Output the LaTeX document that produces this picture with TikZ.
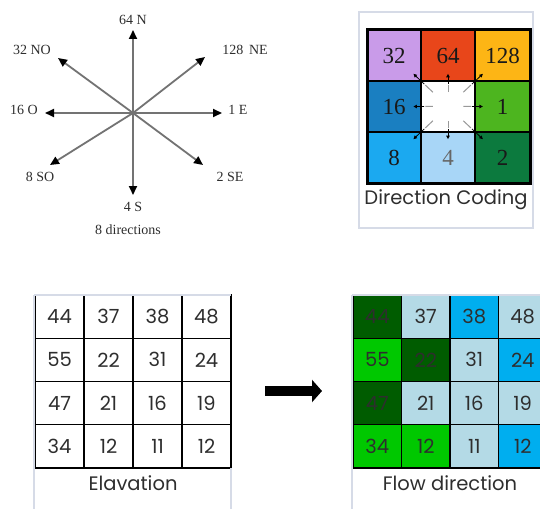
\documentclass[tikz,border=0pt]{standalone}
\usepackage{fontspec}
\setmainfont{Liberation Serif}
\newfontfamily\geo{Poppins}
\usetikzlibrary{arrows.meta,calc}
\definecolor{frameC}{HTML}{D6DBE7}
\definecolor{txtC}{HTML}{2E2E2E}
\definecolor{cA}{HTML}{C99BE9}
\definecolor{cB}{HTML}{E8461A}
\definecolor{cC}{HTML}{FDB515}
\definecolor{cD}{HTML}{1A7FC1}
\definecolor{cE}{HTML}{4DB51F}
\definecolor{cF}{HTML}{1BA9F0}
\definecolor{cG}{HTML}{A8D6F7}
\definecolor{cH}{HTML}{0C7A3E}
\definecolor{fDk}{HTML}{005C00}
\definecolor{fLb}{HTML}{B4DAE6}
\definecolor{fBl}{HTML}{00AEEF}
\definecolor{fGr}{HTML}{00C800}
\begin{document}
\begin{tikzpicture}[x=1pt,y=-1pt,
  comparrow/.style={draw=gray!90!black,line width=1.8pt,-{Triangle[length=9pt,width=8pt,fill=black,color=black]}},
  lab/.style={font=\fontsize{14}{14}\selectfont,text=txtC,inner sep=0pt},
  dcell/.style={draw=black,line width=1.6pt,minimum width=54pt,minimum height=51pt,inner sep=0pt,
    font=\fontsize{23}{23}\selectfont,text=black!90},
  gcell/.style={draw=black,line width=1.3pt,minimum width=49pt,minimum height=43.25pt,inner sep=0pt,
    font=\geo\fontsize{19.5}{19.5}\selectfont,text=txtC},
  fcell/.style={draw=black,line width=1.3pt,minimum width=48.5pt,minimum height=43.25pt,inner sep=0pt,
    font=\geo\fontsize{19.5}{19.5}\selectfont,text=txtC},
  caption/.style={font=\geo\fontsize{19.5}{19.5}\selectfont,text=txtC,inner sep=0pt},
  frame/.style={draw=frameC,line width=1.2pt},
  raydash/.style={draw=gray!80,line width=1pt},
  rayarrow/.style={draw=black,line width=0.8pt,-{Triangle[length=3.5pt,width=3.5pt]}}
]
\useasboundingbox (0,0) rectangle (540,508);
\clip (0,0) rectangle (540,508);
\fill[white] (0,0) rectangle (540,508);

% ---------- compass ----------
\coordinate (c) at (133,113);
\coordinate (tN) at (133,30);
\coordinate (tS) at (133,195);
\coordinate (tE) at (222,113);
\coordinate (tW) at (45,113);
\coordinate (tNE) at (205,57);
\coordinate (tNW) at (58,58);
\coordinate (tSE) at (203,165);
\coordinate (tSW) at (50,165);
\foreach \t in {tN,tS,tE,tW,tNE,tNW,tSE,tSW} \draw[comparrow] (c) -- (\t);
\node[lab] (lN) at (133,20) {64 N};
\node[lab] (lNW) at (32,50) {32 NO};
\node[lab] (lNE) at (245,50) {128\, NE};
\node[lab] (lW) at (24,110) {16 O};
\node[lab] (lE) at (238,110) {1 E};
\node[lab] (lSW) at (40,177) {8 SO};
\node[lab] (lSE) at (230,177) {2 SE};
\node[lab] (lS) at (133,207) {4 S};
\node[lab] (lcap) at (128,230) {8 directions};

% ---------- direction coding ----------
\draw[frame] (359,12) rectangle (533,228);
\node[dcell,fill=cA] (d32) at (394,55.5) {32};
\node[dcell,fill=cB] (d64) at (448,55.5) {64};
\node[dcell,fill=cC] (d128) at (502.5,55.5) {128};
\node[dcell,fill=cD] (d16) at (394,106.5) {16};
\node[dcell,fill=white] (dc) at (448,106.5) {};
\node[dcell,fill=cE] (d1) at (502.5,106.5) {1};
\node[dcell,fill=cF] (d8) at (394,157.5) {8};
\node[dcell,fill=cG,text=black!60] (d4) at (448,157.5) {4};
\node[dcell,fill=cH] (d2) at (502.5,157.5) {2};
\draw[line width=3pt] (367,30) rectangle (530,183);
\foreach \n in {d32,d64,d128,d16,d1,d8,d4,d2}{
  \draw[raydash] ($(dc.center)!0.28!(\n.center)$) -- ($(dc.center)!0.42!(\n.center)$);
  \draw[rayarrow] ($(dc.center)!0.44!(\n.center)$) -- ($(dc.center)!0.64!(\n.center)$);
}
\node[caption] (dcap) at (446,200) {Direction Coding};

% ---------- elevation ----------
\foreach \row [count=\r from 0] in {{44,37,38,48},{55,22,31,24},{47,21,16,19},{34,12,11,12}}{
  \foreach \v [count=\k from 0] in \row{
    \node[gcell] (e\r\k) at ({59.5+49*\k},{316.6+43.25*\r}) {\v};
  }
}
\draw[frame] (34,295) -- (34,515);
\draw[frame] (34,295) -- (231,295);
\draw[frame] (231,468) -- (231,515);
\node[caption] (ecap) at (133,483) {Elavation};

% ---------- arrow ----------
\coordinate (a1) at (265,391);
\coordinate (a2) at (322,391);
\draw[line width=10pt,-{Triangle[length=10pt,width=22pt]}] (a1) -- (a2);

% ---------- flow direction ----------
\def\fcols{{"fDk","fLb","fBl","fLb","fGr","fDk","fLb","fBl","fDk","fLb","fLb","fLb","fGr","fGr","fLb","fBl"}}
\foreach \row [count=\r from 0] in {{44,37,38,48},{55,22,31,24},{47,21,16,19},{34,12,11,12}}{
  \foreach \v [count=\k from 0] in \row{
    \pgfmathsetmacro{\idx}{int(4*\r+\k)}
    \pgfmathparse{\fcols[\idx]}\edef\fc{\pgfmathresult}
    \node[fcell,fill=\fc] (f\r\k) at ({377.25+48.5*\k},{316.6+43.25*\r}) {\v};
  }
}
\draw[frame] (352,295) -- (352,515);
\draw[frame] (352,295) -- (545,295);
\node[caption] (fcap) at (450,483) {Flow direction};
\end{tikzpicture}
\end{document}
